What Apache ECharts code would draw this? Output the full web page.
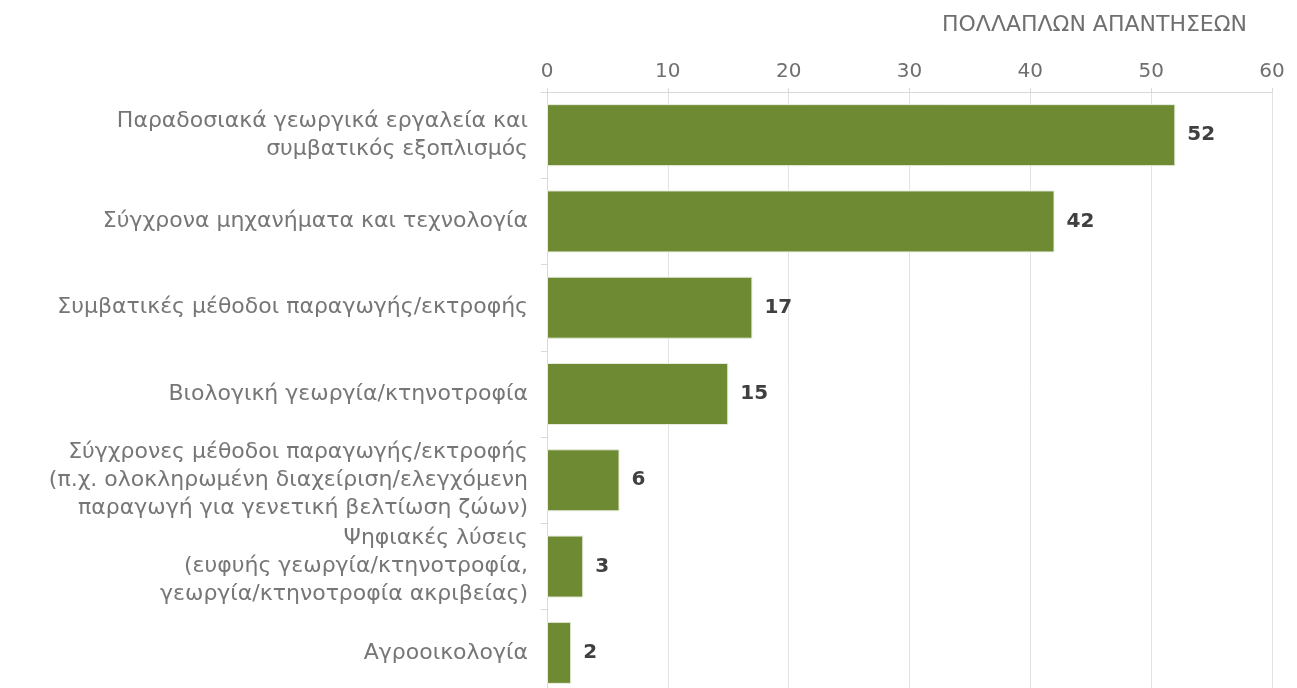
<!DOCTYPE html>
<html>
<head>
<meta charset="utf-8">
<script src="https://cdn.jsdelivr.net/npm/echarts@6/dist/echarts.min.js"></script>
<style>
  html, body { margin: 0; padding: 0; background: #fff; }
  #chart { width: 1297px; height: 688px; }
</style>
</head>
<body>
<div id="chart"></div>
<script>
// κατηγορίες (από πάνω προς τα κάτω)
var categories = [
    'Παραδοσιακά γεωργικά εργαλεία και\nσυμβατικός εξοπλισμός',
    'Σύγχρονα μηχανήματα και τεχνολογία',
    'Συμβατικές μέθοδοι παραγωγής/εκτροφής',
    'Βιολογική γεωργία/κτηνοτροφία',
    'Σύγχρονες μέθοδοι παραγωγής/εκτροφής\n(π.χ. ολοκληρωμένη διαχείριση/ελεγχόμενη\nπαραγωγή για γενετική βελτίωση ζώων)',
    'Ψηφιακές λύσεις\n(ευφυής γεωργία/κτηνοτροφία,\nγεωργία/κτηνοτροφία ακριβείας)',
    'Αγροοικολογία'
];
var values = [52, 42, 17, 15, 6, 3, 2];
var axisTitle = 'ΠΟΛΛΑΠΛΩΝ ΑΠΑΝΤΗΣΕΩΝ';

var font = '"DejaVu Sans", "Noto Sans", sans-serif';

var myChart = echarts.init(document.getElementById('chart'));
var option = {
    animation: false,
    title: {
        text: axisTitle,
        right: 45,
        top: 9,
        textStyle: {
            color: '#6f6f6f',
            fontSize: 22,
            fontWeight: 'normal',
            fontFamily: font
        }
    },
    grid: {
        left: 547,
        right: 25,
        top: 92,
        height: 604,
        outerBoundsMode: 'none',
        containLabel: false
    },
    xAxis: {
        type: 'value',
        position: 'top',
        min: 0,
        max: 60,
        interval: 10,
        axisLine: { show: true, lineStyle: { color: '#d9d9d9' } },
        axisTick: { show: true, length: 4, lineStyle: { color: '#d9d9d9' } },
        splitLine: { show: true, lineStyle: { color: '#e3e3e3' } },
        axisLabel: {
            margin: 10,
            color: '#6f6f6f',
            fontSize: 20,
            fontFamily: font
        }
    },
    yAxis: {
        type: 'category',
        inverse: true,
        data: categories,
        axisLine: { show: true, lineStyle: { color: '#d9d9d9' } },
        axisTick: { show: true, length: 6, lineStyle: { color: '#d9d9d9' } },
        axisLabel: {
            margin: 19,
            color: '#767676',
            fontSize: 22,
            lineHeight: 28,
            fontFamily: font
        }
    },
    series: [{
        type: 'bar',
        data: values,
        barWidth: 62,
        itemStyle: {
            color: '#6e8b33',
            borderColor: '#e8ecdf',
            borderWidth: 1
        },
        label: {
            show: true,
            position: 'right',
            distance: 12,
            color: '#404040',
            fontSize: 20,
            fontWeight: 'bold',
            fontFamily: font
        }
    }]
};
myChart.setOption(option);
</script>
</body>
</html>
